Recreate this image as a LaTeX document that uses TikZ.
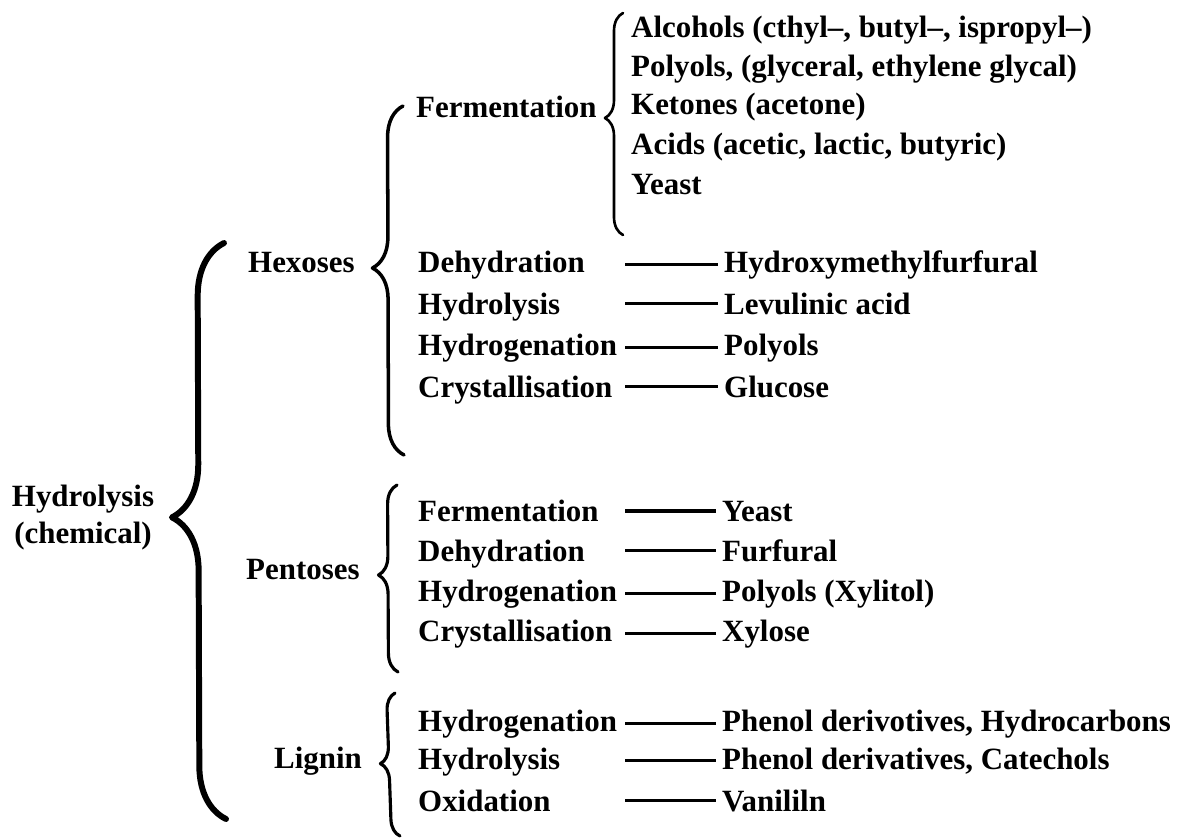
\documentclass[tikz,border=0pt]{standalone}
\usepackage{fontspec}
\setmainfont{Liberation Serif}
\usetikzlibrary{decorations.pathreplacing}

\begin{document}
\begin{tikzpicture}[x=0.02cm, y=-0.02cm,
  font=\fontsize{17.6}{21}\selectfont\bfseries,
  lbl/.style={anchor=mid west},
  link/.style={line width=1.8pt},
  brc/.style={decorate, line cap=round, line join=round, line width=#1}]
  \useasboundingbox (0,0) rectangle (1188,838);

  % Root and the big brace
  \node[align=center] (hyd) at (83,518) {Hydrolysis\\(chemical)};
  \coordinate (rootb) at (226,819);
  \coordinate (roott) at (224,243);
  \draw[brc=3.4pt, decoration={brace, amplitude=1.06cm, aspect=0.524}] (rootb) -- (roott);

  % Sugars and lignin
  \node[lbl] (hex) at (242,268) {Hexoses};
  \node[lbl] (pen) at (240,575) {Pentoses};
  \node[lbl] (lig) at (268,764) {Lignin};

  % Hexoses branch
  \coordinate (hexb) at (404,455);
  \coordinate (hext) at (403,106);
  \draw[brc=2pt, decoration={brace, amplitude=0.62cm, aspect=0.536}] (hexb) -- (hext);
  \node[lbl] (hfer) at (410,113) {Fermentation};
  \coordinate (ferb) at (623,235);
  \coordinate (fert) at (623,13);
  \draw[brc=1.5pt, decoration={brace, amplitude=0.36cm, aspect=0.527}] (ferb) -- (fert);
  \node[lbl] (alc) at (625,33) {Alcohols (cthyl--, butyl--, ispropyl--)};
  \node[lbl] (gly) at (625,72) {Polyols, (glyceral, ethylene glycal)};
  \node[lbl] (ket) at (625,110) {Ketones (acetone)};
  \node[lbl] (aci) at (625,150) {Acids (acetic, lactic, butyric)};
  \node[lbl] (hyea) at (625,190) {Yeast};

  \node[lbl] (hdeh) at (412,268) {Dehydration};
  \node[lbl] (hhyd) at (412,310) {Hydrolysis};
  \node[lbl] (hhdg) at (412,351) {Hydrogenation};
  \node[lbl] (hcry) at (412,393) {Crystallisation};
  \node[lbl] (hmf) at (718,268) {Hydroxymethylfurfural};
  \node[lbl] (lev) at (718,310) {Levulinic acid};
  \node[lbl] (hpol) at (718,351) {Polyols};
  \node[lbl] (glu) at (718,393) {Glucose};

  % Pentoses branch
  \coordinate (penb) at (398,672);
  \coordinate (pent) at (397,485);
  \draw[brc=1.8pt, decoration={brace, amplitude=0.38cm, aspect=0.519}] (penb) -- (pent);
  \node[lbl] (pfer) at (412,517) {Fermentation};
  \node[lbl] (pdeh) at (412,557) {Dehydration};
  \node[lbl] (phdg) at (412,597) {Hydrogenation};
  \node[lbl] (pcry) at (412,637) {Crystallisation};
  \node[lbl] (pyea) at (716,517) {Yeast};
  \node[lbl] (fur) at (716,557) {Furfural};
  \node[lbl] (xyl) at (716,597) {Polyols (Xylitol)};
  \node[lbl] (xyo) at (716,637) {Xylose};

  % Lignin branch
  \coordinate (ligb) at (400,836);
  \coordinate (ligt) at (395,693);
  \draw[brc=1.8pt, decoration={brace, amplitude=0.34cm, aspect=0.51}] (ligb) -- (ligt);
  \node[lbl] (lhdg) at (412,727) {Hydrogenation};
  \node[lbl] (lhyd) at (412,765) {Hydrolysis};
  \node[lbl] (loxi) at (412,807) {Oxidation};
  \node[lbl] (phe) at (716,727) {Phenol derivotives, Hydrocarbons};
  \node[lbl] (cat) at (716,765) {Phenol derivatives, Catechols};
  \node[lbl] (van) at (716,807) {Vanililn};

  % Dashes from process to product
  \coordinate (ls) at (625,0);
  \foreach \p in {hmf,lev,hpol,glu,pyea,fur,xyl,xyo,phe,cat,van}
    \draw[link] (\p.west -| ls) -- (\p.west);
\end{tikzpicture}
\end{document}
